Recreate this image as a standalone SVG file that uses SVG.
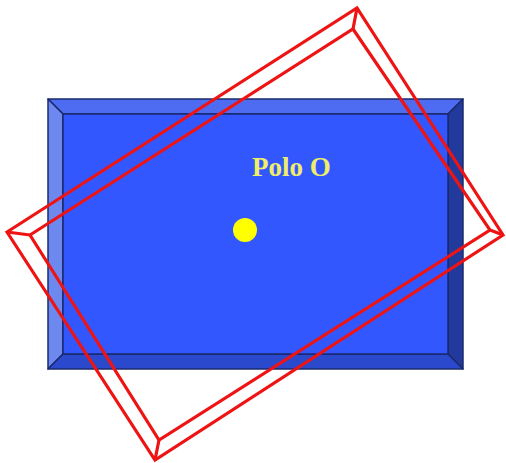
<svg xmlns="http://www.w3.org/2000/svg" width="506" height="463" viewBox="0 0 506 463">
<style>
.bev{stroke:#1b2a6e;stroke-width:1.5;stroke-linejoin:round}
.red{fill:none;stroke:#ee1414;stroke-width:3.2;stroke-linejoin:miter}
.lbl{font-family:"Liberation Serif",serif;font-weight:bold;font-size:27px;fill:#eeee6a}
</style>
<rect width="506" height="463" fill="#ffffff"/>
<g id="plate">
<polygon class="bev" points="48,99 463,99 448,114 63,114" fill="#4d6cf2"/>
<polygon class="bev" points="48,99 63,114 63,354 48,369" fill="#6d89f0"/>
<polygon class="bev" points="463,99 463,369 448,354 448,114" fill="#223a9c"/>
<polygon class="bev" points="48,369 63,354 448,354 463,369" fill="#2a49cc"/>
<rect class="bev" x="63" y="114" width="385" height="240" fill="#3357ff"/>
</g>
<g id="pole">
<circle cx="245" cy="230" r="12" fill="#ffff00"/>
<text class="lbl" x="252" y="176">Polo O</text>
</g>
<g id="frame">
<polygon class="red" points="7,232 357,8 503,235 155,460"/>
<polygon class="red" points="30,235 353,29 490,230 159,440"/>
<path class="red" d="M7,232 L30,235 M357,8 L353,29 M503,235 L490,230 M155,460 L159,440"/>
</g>
</svg>
